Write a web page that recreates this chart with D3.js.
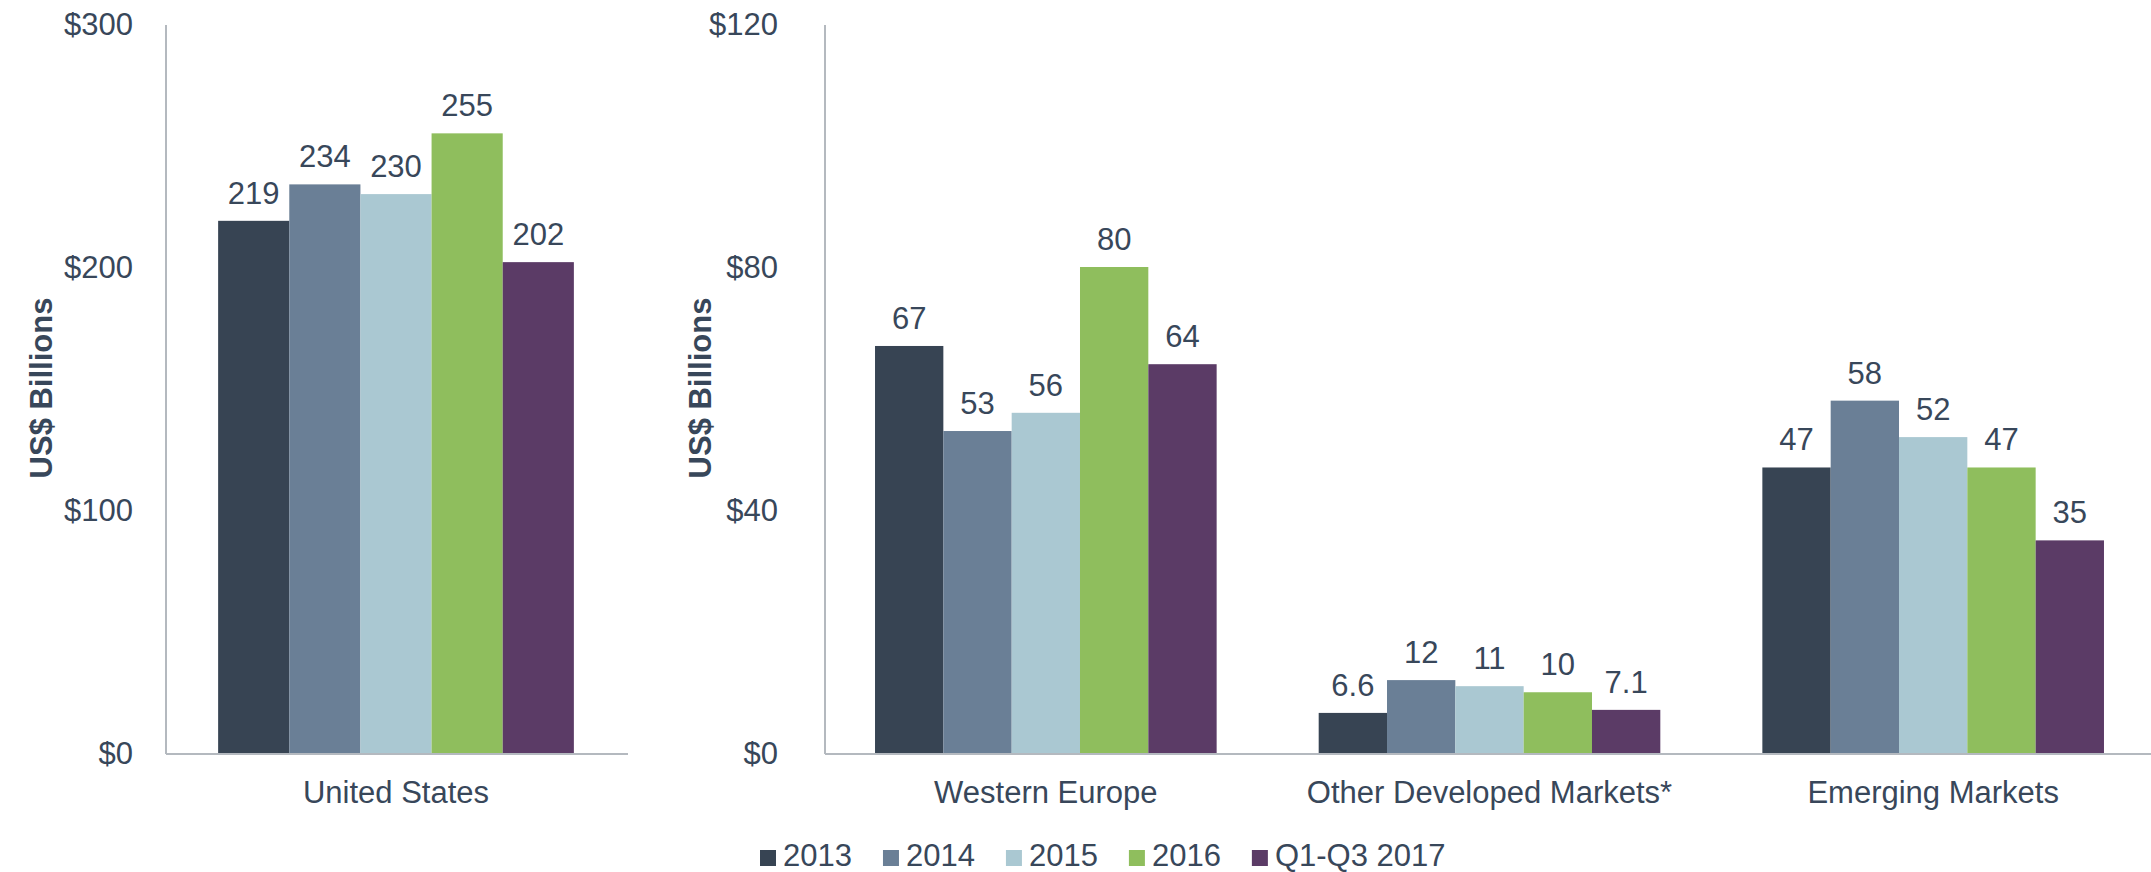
<!DOCTYPE html>
<html lang="en">
  <head>
    <meta charset="utf-8">
    <title>US$ Billions by region</title>
    <script src="https://cdn.jsdelivr.net/npm/d3@7"></script>
    <style>
      body { margin: 0; background: #fff; }
      text { font-family: 'Liberation Sans', Arial, sans-serif; fill: #38475a; }
      .axis path { stroke: #b4b9bf; stroke-width: 2; shape-rendering: crispEdges; }
      .axis text { font-size: 31px; }
      .bar_label { font-size: 31px; text-anchor: middle; }
      .y_title { font-size: 31px; font-weight: bold; text-anchor: middle; }
      .legend text { font-size: 31px; }
    </style>
  </head>
  <body>
    <div id="svg-area"></div>
    <script>
      const svg_width = 2151;
      const svg_height = 872;

      const series = ['2013', '2014', '2015', '2016', 'Q1-Q3 2017'];
      const colors = ['#374453', '#6a7f96', '#aac8d2', '#8fbe5d', '#5b3b66'];

      // left panel
      const left_categories = ['United States'];
      const left_values = [[219, 234, 230, 255, 202]];
      const left_ticks = [0, 100, 200, 300];

      // right panel
      const right_categories = ['Western Europe', 'Other Developed Markets*', 'Emerging Markets'];
      const right_values = [
        [67, 53, 56, 80, 64],
        [6.6, 12, 11, 10, 7.1],
        [47, 58, 52, 47, 35]
      ];
      const right_ticks = [0, 40, 80, 120];

      const svg = d3.select('#svg-area')
        .append('svg')
        .attr('width', svg_width)
        .attr('height', svg_height);

      const color = d3.scaleOrdinal().domain(series).range(colors);

      function panel(opt) {
        const x0 = d3.scaleBand()
          .domain(opt.categories)
          .range([opt.left, opt.right])
          .paddingInner(0.23)
          .paddingOuter(0.115);
        const x1 = d3.scaleBand()
          .domain(series)
          .range([0, x0.bandwidth()]);
        const y = d3.scaleLinear()
          .domain([0, d3.max(opt.ticks)])
          .range([753, 24]);

        // bars
        const groups = svg.append('g')
          .selectAll('g').data(opt.categories).enter()
          .append('g')
          .attr('transform', d => `translate(${x0(d)},0)`);
        groups.selectAll('rect')
          .data((d, i) => series.map((s, j) => ({ s: s, v: opt.values[i][j] })))
          .enter().append('rect')
          .attr('x', d => x1(d.s))
          .attr('y', d => y(d.v))
          .attr('width', x1.bandwidth())
          .attr('height', d => y(0) - y(d.v))
          .attr('fill', d => color(d.s));
        groups.selectAll('text')
          .data((d, i) => series.map((s, j) => ({ s: s, v: opt.values[i][j] })))
          .enter().append('text')
          .attr('class', 'bar_label')
          .attr('x', d => x1(d.s) + x1.bandwidth() / 2)
          .attr('y', d => y(d.v) - 17)
          .text(d => d.v);

        // axes
        const y_axis = svg.append('g')
          .attr('class', 'axis')
          .attr('transform', `translate(${opt.left},0)`)
          .call(d3.axisLeft(y).tickValues(opt.ticks).tickSize(0).tickSizeOuter(0)
            .tickPadding(opt.tick_pad).tickFormat(d => '$' + d));
        y_axis.selectAll('text').attr('dy', '0.34em');

        svg.append('g')
          .attr('class', 'axis')
          .attr('transform', `translate(0,${y(0)})`)
          .call(d3.axisBottom(x0).tickSize(0).tickSizeOuter(0).tickPadding(28));

        // y title
        svg.append('text')
          .attr('class', 'y_title')
          .attr('transform', `translate(${opt.title_x},388) rotate(-90)`)
          .attr('dy', '0.35em')
          .text('US$ Billions');
      }

      panel({ categories: left_categories, values: left_values, ticks: left_ticks,
              left: 165, right: 627, tick_pad: 32, title_x: 41 });
      panel({ categories: right_categories, values: right_values, ticks: right_ticks,
              left: 824, right: 2155, tick_pad: 46, title_x: 700 });

      // legend
      const legend = svg.append('g').attr('class', 'legend');
      let lx = 760;
      series.forEach(s => {
        legend.append('rect')
          .attr('x', lx).attr('y', 850)
          .attr('width', 16).attr('height', 16)
          .attr('fill', color(s));
        const t = legend.append('text')
          .attr('x', lx + 23).attr('y', 866)
          .text(s);
        lx += 23 + t.node().getComputedTextLength() + 31;
      });
    </script>
  </body>
</html>
